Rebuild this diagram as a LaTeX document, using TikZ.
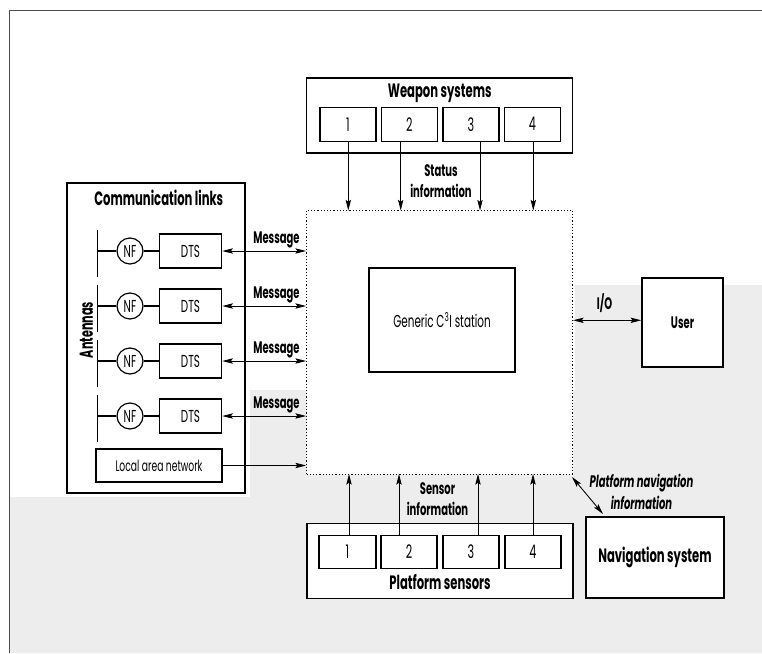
\documentclass[tikz,border=0pt]{standalone}
\usepackage{fontspec}
\setmainfont{Poppins}[FakeStretch=0.6]
\usetikzlibrary{arrows.meta}
\newcommand\pw[1]{#1*0.75pt}
\tikzset{
  box/.style={draw, fill=white, line width=1.15pt, inner sep=0pt},
  tip/.tip={Stealth[length=8pt,width=4pt,inset=1.5pt]},
  arr/.style={line width=0.65pt, -tip},
  darr/.style={line width=0.65pt, tip-tip},
  lbl/.style={font=\bfseries\fontsize{12.5}{16.3}\selectfont, inner sep=0pt, align=center},
  ttl/.style={font=\bfseries\fontsize{14.5}{16}\selectfont, inner sep=0pt},
  txt/.style={font=\fontsize{13}{15}\selectfont},
  num/.style={font=\fontsize{14}{16}\selectfont},
}
\begin{document}
\begin{tikzpicture}[x=0.75pt,y=-0.75pt]
\useasboundingbox (0,0) rectangle (762,653);
% background texture tone
\fill[gray!14] (9,653) -- (9,497) -- (250,497) -- (250,390) -- (575,390) -- (575,285) -- (762,285) -- (762,653) -- cycle;
% frame
\draw[line width=0.6pt, gray!60!black] (9,653) -- (9,10) -- (762,10);

% Weapon systems
\node[box, minimum width=\pw{266}, minimum height=\pw{75}] (ws) at (439.7,115.5) {};
\node[ttl, anchor=base] (wst) at (439.7,97) {Weapon systems};
\foreach \i/\cx in {1/348, 2/409.3, 3/471, 4/532.3}
  \node[box, num, minimum width=\pw{56}, minimum height=\pw{34}] (w\i) at (\cx,124.3) {\i};

% central dotted area
\node[draw, fill=white, line width=0.7pt, dash pattern=on 0.9pt off 1.5pt,
      minimum width=\pw{266}, minimum height=\pw{264}] (c3i) at (439.5,342) {};
\node[box, txt, minimum width=\pw{146}, minimum height=\pw{104}] (gen) at (442,320) {Generic C\textsuperscript{3}I station};

\foreach \i/\ax in {1/348.3,2/400.7,3/480,4/533.3} {
  \coordinate (wa\i) at (\ax,210.5);
  \draw[arr] (w\i.south -| wa\i) -- (wa\i);
}
\node[lbl] (stat) at (441,181) {Status\\information};

% Communication links
\node[box, minimum width=\pw{178}, minimum height=\pw{310}] (comm) at (156,338) {};
\node[ttl, anchor=base] (commt) at (158.8,205) {Communication links};
\node[lbl, rotate=90, font=\bfseries\fontsize{14}{16}\selectfont] (ant) at (86.5,330) {Antennas};
\foreach \i/\y in {1/251,2/306,3/361,4/416} {
  \node[box, txt, minimum width=\pw{62}, minimum height=\pw{34}] (dts\i) at (190.5,\y) {DTS};
  \node[draw, circle, fill=white, line width=0.9pt, inner sep=0pt, minimum size=\pw{26}, txt] (nf\i) at (130,\y) {NF};
  \coordinate (antt\i) at (97.3,\y-21);
  \coordinate (antb\i) at (97.3,\y+26);
  \draw[line width=1.2pt] (antt\i) -- (antb\i);
  \draw[line width=0.8pt] (antt\i |- nf\i) -- (nf\i);
  \draw[line width=0.8pt] (nf\i) -- (dts\i);
  \draw[darr] (dts\i.east) -- (c3i.west |- dts\i.east);
  \node[lbl, anchor=base] (msg\i) at (276.5,\y-8) {Message};
}
\node[box, font=\fontsize{11.5}{13}\selectfont, minimum width=\pw{126}, minimum height=\pw{33}] (lan) at (159,465.5) {Local area network};
\draw[arr] (lan.east) -- (c3i.west |- lan.east);

% User
\node[box, lbl, minimum width=\pw{81}, minimum height=\pw{89}] (user) at (682.5,322.5) {User};
\coordinate (io) at (572,320.3);
\draw[darr] (c3i.east |- io) -- (user.west |- io);
\node[lbl, anchor=base] (iol) at (604.5,309.3) {I/O};

% Platform sensors
\node[box, minimum width=\pw{266}, minimum height=\pw{75}] (ps) at (440,561) {};
\node[ttl, anchor=base] (pst) at (440,589) {Platform sensors};
\foreach \i/\cx/\w in {1/347.5/57, 2/409/56, 3/471/56, 4/533/56}
  \node[box, num, minimum width=\pw{\w}, minimum height=\pw{33}] (p\i) at (\cx,552) {\i};
\foreach \i/\ax in {1/349,2/399,3/478,4/533} {
  \coordinate (pa\i) at (\ax,474);
  \draw[arr] (p\i.north -| pa\i) -- (pa\i);
}
\node[lbl] (sens) at (437.5,499) {Sensor\\information};

% Navigation system
\node[box, ttl, minimum width=\pw{138}, minimum height=\pw{81}] (nav) at (655,557.5) {Navigation system};
\coordinate (pn1) at (572,477);
\coordinate (pn2) at (603,514);
\draw[darr] (pn1) -- (pn2);
\node[lbl, font=\bfseries\itshape\fontsize{12.5}{16.3}\selectfont] (pnl) at (641.5,492) {Platform navigation\\information};
\end{tikzpicture}
\end{document}
